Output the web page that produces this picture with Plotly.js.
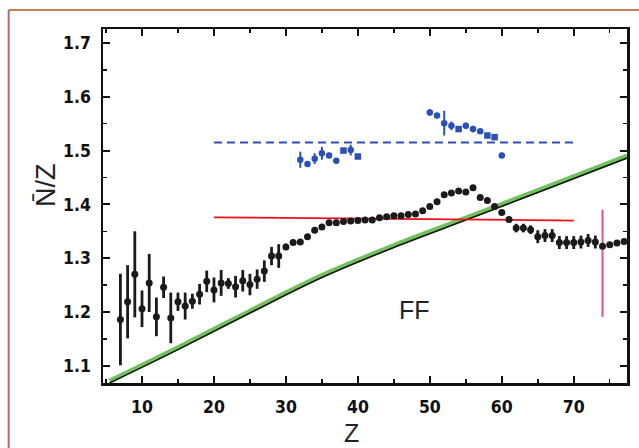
<!DOCTYPE html>
<html>
<head>
<meta charset="utf-8">
<script src="https://cdn.plot.ly/plotly-3.0.1.min.js"></script>
<style>html,body{margin:0;padding:0;background:#fff;}#chart{width:639px;height:448px;}</style>
</head>
<body>
<div id="chart"></div>
<script>
// ---- data ----
const blackZ = [7,8,9,10,11,12,13,14,15,16,17,18,19,20,21,22,23,24,25,26,27,28,29,30,31,32,33,34,35,36,37,38,39,40,41,42,43,44,45,46,47,48,49,50,51,52,53,54,55,56,57,58,59,60,61,62,63,64,65,66,67,68,69,70,71,72,73,74,75,76,77];
const blackNZ = [1.186,1.219,1.270,1.206,1.254,1.191,1.246,1.189,1.219,1.211,1.220,1.233,1.257,1.241,1.254,1.253,1.247,1.258,1.251,1.261,1.276,1.304,1.304,1.321,1.329,1.330,1.340,1.352,1.358,1.366,1.366,1.368,1.369,1.370,1.371,1.371,1.375,1.377,1.379,1.379,1.381,1.382,1.388,1.396,1.405,1.418,1.421,1.425,1.423,1.431,1.413,1.407,1.396,1.385,1.372,1.356,1.356,1.353,1.340,1.342,1.342,1.329,1.329,1.329,1.330,1.333,1.330,1.322,1.325,1.328,1.331];
const blackErr = [0.085,0.068,0.080,0.034,0.054,0.036,0.020,0.047,0.017,0.025,0.014,0.019,0.020,0.023,0.024,0.010,0.020,0.020,0.020,0.018,0.020,0.017,0.022,0.006,0,0,0,0,0,0,0,0,0,0,0,0,0,0,0,0,0,0,0,0,0,0,0,0,0,0,0,0,0,0,0,0.008,0.008,0.008,0.012,0.012,0.012,0.012,0.012,0.012,0.012,0.012,0.012,0,0,0,0];

const blueZ = [32,33,34,35,36,37,38,39,40,50,51,52,53,54,55,56,57,58,59,60];
const blueNZ = [1.483,1.475,1.485,1.495,1.491,1.481,1.500,1.501,1.489,1.571,1.565,1.551,1.546,1.540,1.546,1.540,1.536,1.528,1.525,1.491];
const blueErr = [0.015,0.005,0.010,0.012,0.005,0.004,0.004,0.010,0,0.006,0.005,0.023,0.008,0,0.006,0.006,0.004,0,0,0.005];

const blueDashZ = [20,70];
const blueDashNZ = [1.515,1.515];

const redZ = [20,70];
const redNZ = [1.376,1.370];

const pinkZ = [74,74];
const pinkNZ = [1.191,1.390];

const stabZ = [5.5,15,25,35,45,55,65,77.4];
const stabNZ = [1.068,1.130,1.198,1.264,1.320,1.371,1.422,1.486];

const xTicks = [10,20,30,40,50,60,70];
const yTicks = [1.1,1.2,1.3,1.4,1.5,1.6,1.7];

// ---- styling ----
const blueSymbols = blueZ.map(z => [38,40,54,58,59].includes(z) ? 'square' : 'circle');
const tickFont = {family: 'DejaVu Sans Condensed, Liberation Sans Narrow, Arial', size: 17.5, color: '#111', weight: 'bold'};

const traces = [
  {x: stabZ, y: stabNZ.map(v => v + 0.004), mode: 'lines', line: {color: '#62bb4e', width: 4.5, shape: 'spline', smoothing: 1}, opacity: 0.9, hoverinfo: 'skip'},
  {x: stabZ, y: stabNZ, mode: 'lines', line: {color: '#111', width: 1.6, shape: 'spline', smoothing: 1}, hoverinfo: 'skip'},
  {x: redZ, y: redNZ, mode: 'lines', line: {color: '#ec1018', width: 1.8}},
  {x: pinkZ, y: pinkNZ, mode: 'lines', line: {color: '#e0508a', width: 2}},
  {x: blueDashZ, y: blueDashNZ, mode: 'lines', line: {color: '#2f4fb5', width: 1.8, dash: '8px,5px'}},
  {x: blackZ, y: blackNZ, mode: 'markers', marker: {color: '#1a1a1a', size: 7},
   error_y: {type: 'data', array: blackErr, visible: true, color: '#1a1a1a', thickness: 2.8, width: 0}},
  {x: blueZ, y: blueNZ, mode: 'markers', marker: {color: '#2a4fb8', size: 6.5, symbol: blueSymbols},
   error_y: {type: 'data', array: blueErr, visible: true, color: '#2a4fb8', thickness: 2, width: 0}}
];

const layout = {
  width: 639, height: 448,
  margin: {l: 103, r: 12, t: 29, b: 65},
  paper_bgcolor: '#fff', plot_bgcolor: '#fff',
  showlegend: false,
  xaxis: {
    range: [4.58, 77.4], tickvals: xTicks, ticktext: xTicks.map(String),
    showline: true, linecolor: '#111', linewidth: 2.5, mirror: 'allticks',
    ticks: 'inside', ticklen: 7, tickwidth: 2, tickcolor: '#111',
    minor: {dtick: 5, tick0: 0, ticks: 'inside', ticklen: 4, tickwidth: 1.5, tickcolor: '#111'},
    showgrid: false, zeroline: false, tickfont: tickFont, ticklabelstandoff: 6
  },
  yaxis: {
    range: [1.068, 1.726], tickvals: yTicks, ticktext: yTicks.map(v => v.toFixed(1)),
    showline: true, linecolor: '#111', linewidth: 2.5, mirror: 'allticks',
    ticks: 'inside', ticklen: 7, tickwidth: 2, tickcolor: '#111',
    minor: {dtick: 0.05, tick0: 1.0, ticks: 'inside', ticklen: 4, tickwidth: 1.5, tickcolor: '#111'},
    showgrid: false, zeroline: false, tickfont: tickFont, ticklabelstandoff: 6
  },
  annotations: [
    {text: 'FF', x: 47.9, y: 1.204, xref: 'x', yref: 'y', showarrow: false, xanchor: 'center', yanchor: 'middle',
     font: {family: 'Liberation Sans, Arial', size: 25, color: '#222'}},
    {text: 'N\u0304/Z', x: -0.11, y: 0.56, xref: 'paper', yref: 'paper', showarrow: false, textangle: -90,
     xanchor: 'center', yanchor: 'middle',
     font: {family: 'Liberation Sans, Arial', size: 27, color: '#222'}},
    {text: 'Z', x: 0.475, y: -0.142, xref: 'paper', yref: 'paper', showarrow: false,
     xanchor: 'center', yanchor: 'middle',
     font: {family: 'Liberation Sans, Arial', size: 25, color: '#222'}}
  ],
  shapes: [
    {type: 'line', xref: 'paper', yref: 'paper', x0: -0.18, x1: 1.03, y0: 1.054, y1: 1.054, line: {color: '#c0805a', width: 2}},
    {type: 'line', xref: 'paper', yref: 'paper', x0: -0.18, x1: -0.18, y0: -0.2, y1: 1.054, line: {color: '#b06b78', width: 2}}
  ]
};

Plotly.newPlot('chart', traces, layout, {displayModeBar: false, staticPlot: true});
</script>
</body>
</html>
